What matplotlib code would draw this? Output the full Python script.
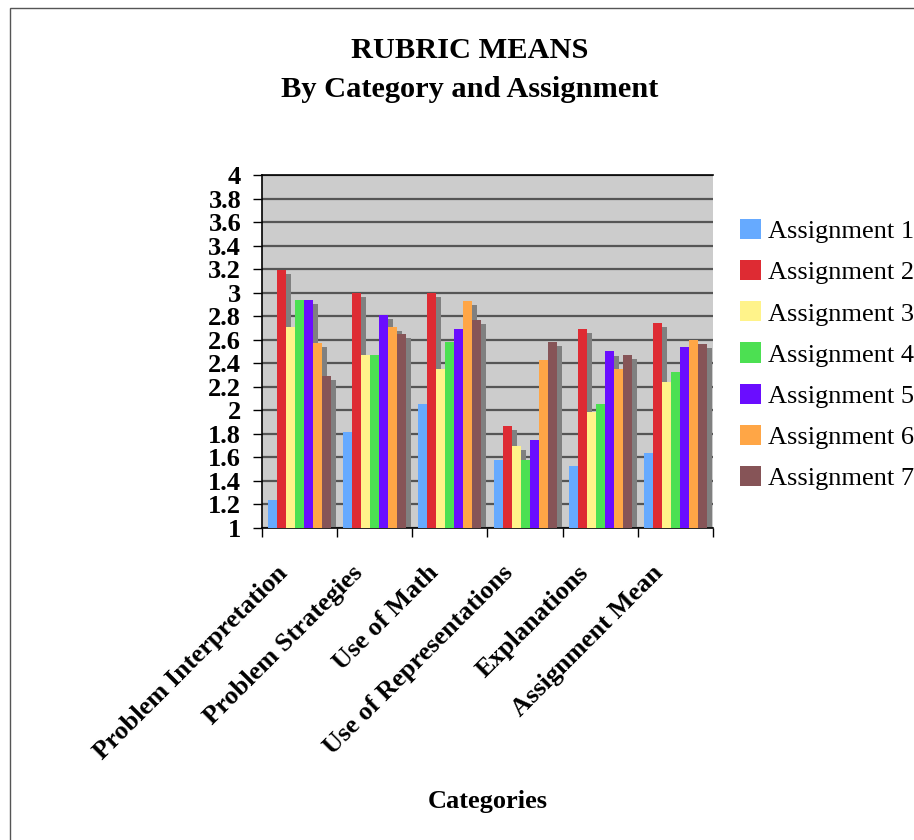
import numpy as np
import matplotlib.pyplot as plt
import matplotlib.transforms as mtransforms
from matplotlib.patches import Rectangle

categories = ["Problem Interpretation", "Problem Strategies", "Use of Math",
              "Use of Representations", "Explanations", "Assignment Mean"]
series_names = ["Assignment 1", "Assignment 2", "Assignment 3", "Assignment 4",
                "Assignment 5", "Assignment 6", "Assignment 7"]
assign1 = [1.24, 1.82, 2.05, 1.58, 1.53, 1.64]
assign2 = [3.19, 3.00, 3.00, 1.87, 2.69, 2.74]
assign3 = [2.71, 2.47, 2.35, 1.70, 1.99, 2.24]
assign4 = [2.94, 2.47, 2.58, 1.58, 2.05, 2.33]
assign5 = [2.94, 2.81, 2.69, 1.75, 2.50, 2.54]
assign6 = [2.57, 2.71, 2.93, 2.43, 2.35, 2.60]
assign7 = [2.29, 2.65, 2.77, 2.58, 2.47, 2.56]
y_ticks = [1, 1.2, 1.4, 1.6, 1.8, 2, 2.2, 2.4, 2.6, 2.8, 3, 3.2, 3.4, 3.6, 3.8, 4]

all_series = [assign1, assign2, assign3, assign4, assign5, assign6, assign7]
colors = ["#66AAFF", "#DE2B33", "#FFF38A", "#4CE052", "#6A0DFF", "#FFA646", "#865457"]

plt.rcParams['font.family'] = ['Liberation Serif', 'DejaVu Serif']

W, H = 914, 840
fig = plt.figure(figsize=(W / 100, H / 100), dpi=100)
# outer chart frame (only left and top edges show)
fig.patches.append(Rectangle((10 / W, -0.1), 1.2, 1 - 8 / H + 0.1, transform=fig.transFigure,
                             facecolor='none', edgecolor='#555555', lw=1))

ax = fig.add_axes([262 / W, 1 - 528 / H, (713 - 262) / W, (528 - 175) / H])
ax.set_facecolor('#CCCCCC')

x = np.arange(len(categories))
bw = 0.12
sdx, sdy = 0.066, 0.034
# grey drop shadows behind the bars
for i, vals in enumerate(all_series):
    pos = x + (i - 3) * bw
    ax.bar(pos + sdx, np.array(vals) - sdy - 1, bw, bottom=1, color='#808080', zorder=2, lw=0)
for i, vals in enumerate(all_series):
    pos = x + (i - 3) * bw
    ax.bar(pos, np.array(vals) - 1, bw, bottom=1, color=colors[i], zorder=3, lw=0,
           label=series_names[i])

ax.set_xlim(-0.5, len(categories) - 0.5)
ax.set_ylim(1, 4)
ax.set_yticks(y_ticks)
ax.set_yticklabels([f"{t:g}" for t in y_ticks], fontsize=19, fontweight='bold')
ax.yaxis.grid(True, color='#555555', lw=1.6, zorder=1)
ax.set_axisbelow(True)

ax.set_xticks(np.arange(-0.5, len(categories), 1.0))
ax.set_xticklabels([])
ax.tick_params(axis='x', length=6.5, width=1, direction='out')
ax.tick_params(axis='y', length=6.5, width=1, pad=8.5)

# category labels, rotated, right end of baseline anchored below each group
trans = mtransforms.blended_transform_factory(ax.transData, ax.transAxes)
trans = trans + mtransforms.ScaledTranslation(-11 / 100, -46 / 100, fig.dpi_scale_trans)
for xi, cat in zip(x, categories):
    ax.text(xi, 0, cat, transform=trans, rotation=45, rotation_mode='anchor',
            ha='right', va='baseline', fontsize=19, fontweight='bold')

for s in ['left', 'bottom', 'top']:
    ax.spines[s].set_color('black')
    ax.spines[s].set_linewidth(1.2)
ax.spines['right'].set_visible(False)

fig.text(470 / W, 1 - 58 / H, "RUBRIC MEANS", ha='center', va='baseline',
         fontsize=21.9, fontweight='bold')
fig.text(470 / W, 1 - 97 / H, "By Category and Assignment", ha='center', va='baseline',
         fontsize=21.9, fontweight='bold')
fig.text(488 / W, 1 - 808 / H, "Categories", ha='center', va='baseline',
         fontsize=19, fontweight='bold')

ax.legend(loc='upper left', bbox_to_anchor=(740 / W, 1 - 219 / H),
          bbox_transform=fig.transFigure, frameon=False, fontsize=19,
          handlelength=0.8, handleheight=0.8, handletextpad=0.25,
          labelspacing=0.64, borderpad=0, borderaxespad=0)

fig.savefig("out.png", dpi=100)
